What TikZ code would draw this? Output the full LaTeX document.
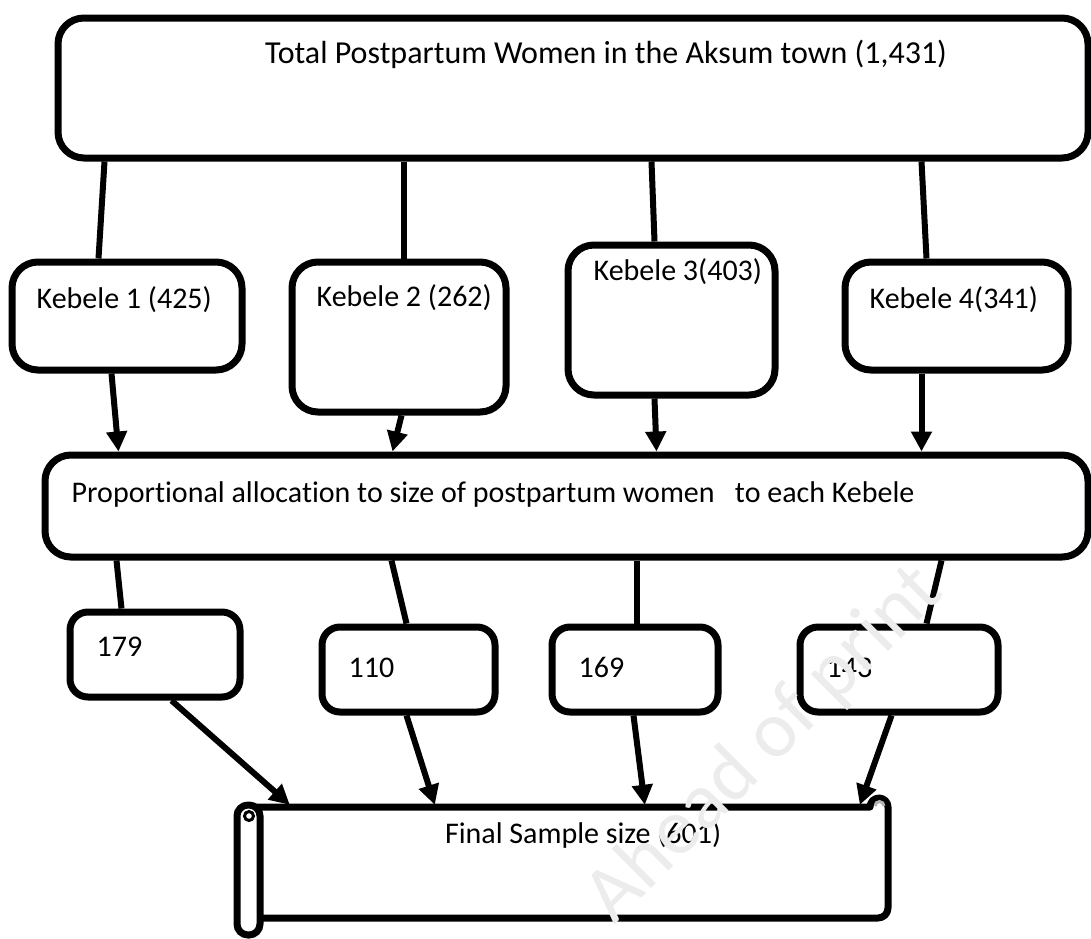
\documentclass[tikz,border=0pt]{standalone}
\usepackage{fontspec}
\setmainfont{Carlito}[Ligatures=NoCommon]
\usetikzlibrary{arrows.meta,positioning,calc}

\begin{document}
\begin{tikzpicture}[x=1pt,y=-1pt,
  every node/.style={font=\fontsize{30}{35}\selectfont,inner sep=0pt},
  box/.style={draw,line width=7pt,rounded corners=26pt,fill=white},
  numbox/.style={draw,line width=7pt,rounded corners=18pt,fill=white},
  link/.style={line width=6pt},
  arr/.style={line width=6pt,-{Triangle[length=20pt,width=20pt]}}]
\useasboundingbox (0,0) rectangle (1091,938);
% boxes
\node[box,minimum width=1030,minimum height=140] (top) at (573,88) {};
\node[box,minimum width=230,minimum height=108] (k1) at (127,316) {};
\node[box,minimum width=214,minimum height=150] (k2) at (399,337) {};
\node[box,minimum width=207,minimum height=150] (k3) at (671.5,320) {};
\node[box,minimum width=223,minimum height=108] (k4) at (956.5,316) {};
\node[box,minimum width=1043,minimum height=102] (prop) at (566.5,506) {};
\node[numbox,minimum width=170,minimum height=85] (n1) at (155,654.5) {};
\node[numbox,minimum width=173,minimum height=85] (n2) at (408.5,669.5) {};
\node[numbox,minimum width=166,minimum height=85] (n3) at (635,669.5) {};
\node[numbox,minimum width=198,minimum height=85] (n4) at (899,669.5) {};
\node[minimum width=630,minimum height=113] (final) at (573,861.5) {};
% scroll
\draw[line width=7pt,line join=round] (248,807) -- (870,807)
  arc[start angle=180,end angle=360,radius=9] -- (888,908)
  arc[start angle=0,end angle=90,radius=10] -- (260,918);
\draw[line width=7pt,rounded corners=11pt,fill=white] (237,805) rectangle (260,935);
\draw[line width=3pt] (249,816) circle[radius=4.5];
\draw[line width=3pt,gray!60] (875,806) arc[start angle=180,end angle=360,radius=4.5];
% texts
\node[anchor=center,font=\fontsize{32}{37}\selectfont] (toptxt) at ([shift={(33,40)}]top.north) {Total Postpartum Women in the Aksum town (1,431)};
\node[anchor=west] (k1txt) at ([shift={(28,-16)}]k1.west) {Kebele 1 (425)};
\node[anchor=west] (k2txt) at ([shift={(28,-39)}]k2.west) {Kebele 2 (262)};
\node[anchor=west] (k3txt) at ([shift={(29,-48)}]k3.west) {Kebele 3(403)};
\node[anchor=west] (k4txt) at ([shift={(28,-16)}]k4.west) {Kebele 4(341)};
\node[anchor=west] (proptxt) at ([shift={(30,-12)}]prop.west) {Proportional allocation to size of postpartum women\ \ \ to each Kebele};
\node[anchor=base west] (n1txt) at ([shift={(30,2)}]n1.west) {179};
\node[anchor=base west] (n2txt) at ([shift={(30,8)}]n2.west) {110};
\node[anchor=base west] (n3txt) at ([shift={(30,8)}]n3.west) {169};
\node[anchor=base west] (n4txt) at ([shift={(30,8)}]n4.west) {143};
\node[anchor=west] (finaltxt) at ([shift={(187,-26.5)}]final.west) {Final Sample size (601)};
% connectors
\draw[link] ([xshift=50]top.south west) -- ([xshift=90]k1.north west);
\draw[link] ([xshift=349]top.south west) -- ([xshift=115]k2.north west);
\draw[link] ([xshift=597]top.south west) -- ([xshift=90]k3.north west);
\draw[link] ([xshift=867]top.south west) -- ([xshift=85]k4.north west);
\draw[arr] ([xshift=103]k1.south west) -- ([xshift=77]prop.north west);
\draw[arr] ([xshift=113]k2.south west) -- ([xshift=351]prop.north west);
\draw[arr] ([xshift=90]k3.south west) -- ([xshift=615]prop.north west);
\draw[arr] ([xshift=80]k4.south west) -- ([xshift=880]prop.north west);
\draw[link] ([xshift=75]prop.south west) -- ([xshift=55]n1.north west);
\draw[link] ([xshift=350]prop.south west) -- ([xshift=88]n2.north west);
\draw[link] ([xshift=595]prop.south west) -- ([xshift=88]n3.north west);
\draw[link] ([xshift=900]prop.south west) -- ([xshift=130]n4.north west);
\draw[arr] ([xshift=105]n1.south west) -- ([xshift=32]final.north west);
\draw[arr] ([xshift=88]n2.south west) -- ([xshift=177]final.north west);
\draw[arr] ([xshift=85]n3.south west) -- ([xshift=387]final.north west);
\draw[arr] ([xshift=95]n4.south west) -- ([xshift=602]final.north west);
% watermark
\node[rotate=45,text=gray!15,font=\fontsize{80}{90}\selectfont] (wm) at (765,745) {Ahead of print};
\end{tikzpicture}
\end{document}
